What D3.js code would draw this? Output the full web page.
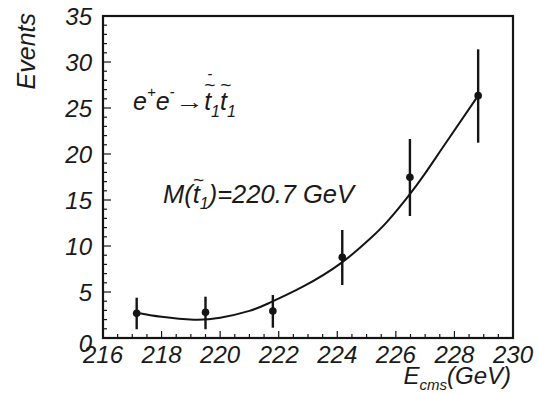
<!DOCTYPE html>
<html>
<head>
<meta charset="utf-8">
<script src="https://cdn.jsdelivr.net/npm/d3@7"></script>
<style>
  html, body { margin: 0; padding: 0; background: #fff; }
  svg { display: block; }
  text { font-family: "Liberation Sans", Arial, sans-serif; font-style: italic; fill: #1a1a1a; }
</style>
</head>
<body>
<svg id="chart" width="538" height="393"></svg>
<script>
// ---- data ----
const energies = [217.15, 219.5, 221.8, 224.17, 226.48, 228.81];
const events   = [2.68, 2.79, 2.93, 8.77, 17.47, 26.34];
const errLow   = [0.95, 0.95, 1.12, 5.76, 13.26, 21.23];
const errHigh  = [4.38, 4.49, 4.67, 11.74, 21.63, 31.38];
// fitted curve, points
const fitX = [217.15, 218.0, 219.1, 220.0, 221.0, 221.7, 222.84, 224.15, 225.12, 225.69, 226.42, 227.0, 227.6, 228.81];
const fitY = [2.75, 2.3, 1.98, 2.2, 2.95, 3.84, 5.6, 8.19, 10.8, 12.6, 15.4, 17.9, 20.7, 26.34];
const xTickLabels = ["216", "218", "220", "222", "224", "226", "228", "230"];
const yTickLabels = ["0", "5", "10", "15", "20", "25", "30", "35"];

const svg = d3.select("#chart");
const L = 103, R = 513, T = 16, B = 338;
const x = d3.scaleLinear().domain([216, 230]).range([L, R]);
const y = d3.scaleLinear().domain([0, 35]).range([B, T]);
const ink = "#141414";

// minor ticks
const xMinor = d3.range(216, 230.001, 0.5);
const yMinor = d3.range(0, 35.001, 1);
svg.append("g").selectAll("line").data(xMinor).join("line")
  .attr("x1", d => x(d)).attr("x2", d => x(d))
  .attr("y1", B).attr("y2", d => (Math.abs(d % 2) < 1e-6) ? B - 7 : B - 4)
  .attr("stroke", ink).attr("stroke-width", 1.2);
svg.append("g").selectAll("line").data(yMinor).join("line")
  .attr("y1", d => y(d)).attr("y2", d => y(d))
  .attr("x1", L).attr("x2", d => (d % 5 === 0) ? L + 8 : L + 4)
  .attr("stroke", ink).attr("stroke-width", 1.2);

// frame
svg.append("rect").attr("x", L).attr("y", T).attr("width", R - L).attr("height", B - T)
  .attr("fill", "none").attr("stroke", ink).attr("stroke-width", 2.2);

// tick labels
svg.append("g").selectAll("text").data(xTickLabels).join("text")
  .attr("x", d => x(+d)).attr("y", 363)
  .attr("text-anchor", "middle").attr("font-size", 24).text(d => d);
svg.append("g").selectAll("text").data(yTickLabels).join("text")
  .attr("x", 92).attr("y", d => y(+d) + (d === "0" ? 5 : 0)).attr("dy", "0.36em")
  .attr("text-anchor", "end").attr("font-size", 24).text(d => d);

// axis titles
svg.append("text").attr("transform", "translate(35,13) rotate(-90)")
  .attr("text-anchor", "end").attr("font-size", 25).text("Events");
const xt = svg.append("text").attr("x", 511).attr("y", 384).attr("text-anchor", "end").attr("font-size", 24);
xt.append("tspan").text("E");
xt.append("tspan").attr("font-size", 15).attr("dy", 6).text("cms");
xt.append("tspan").attr("dy", -6).text("(GeV)");

// fit curve
const line = d3.line().x(d => x(d[0])).y(d => y(d[1])).curve(d3.curveNatural);
svg.append("path").datum(fitX.map((v, i) => [v, fitY[i]])).attr("d", line)
  .attr("fill", "none").attr("stroke", ink).attr("stroke-width", 2);

// error bars and points
const pts = energies.map((e, i) => ({ e, v: events[i], lo: errLow[i], hi: errHigh[i] }));
svg.append("g").selectAll("line").data(pts).join("line")
  .attr("x1", d => x(d.e)).attr("x2", d => x(d.e))
  .attr("y1", d => y(d.lo)).attr("y2", d => y(d.hi))
  .attr("stroke", ink).attr("stroke-width", 2.4);
svg.append("g").selectAll("circle").data(pts).join("circle")
  .attr("cx", d => x(d.e)).attr("cy", d => y(d.v)).attr("r", 3.8).attr("fill", ink);

// annotation 1: e+e- -> t~bar_1 t~_1
const base1 = 110;
const aA = svg.append("text").attr("x", 133).attr("y", base1).attr("font-size", 25);
aA.append("tspan").text("e");
aA.append("tspan").attr("font-size", 15).attr("dy", -13).text("+");
aA.append("tspan").attr("dy", 13).text("e");
aA.append("tspan").attr("font-size", 15).attr("dy", -13).text("-");
const endA = 133 + aA.node().getComputedTextLength() + 1;
const arrowG = svg.append("g").attr("transform", `translate(${endA},${base1 - 1}) scale(1.3,1)`);
const arrow = arrowG.append("text").attr("x", 0).attr("y", 0).attr("font-size", 22)
  .attr("font-style", "normal").text("\u2192");
const arrowW = arrow.node().getComputedTextLength() * 1.3;
const cStart = endA + arrowW;
const aC = svg.append("text").attr("x", cStart).attr("y", base1).attr("font-size", 25);
aC.append("tspan").text("t");
aC.append("tspan").attr("font-size", 16).attr("dy", 7).text("1");
aC.append("tspan").attr("dy", -7).text("t");
aC.append("tspan").attr("font-size", 16).attr("dy", 7).text("1");
const nC = aC.node();
[0, 2].forEach((ci, k) => {
  const s = nC.getStartPositionOfChar(ci).x, e = nC.getEndPositionOfChar(ci).x;
  const cx = (s + e) / 2 + 2;
  svg.append("text").attr("x", cx).attr("y", 91).attr("text-anchor", "middle")
    .attr("font-size", 19).attr("font-style", "normal").text("~");
  if (k === 0) {
    svg.append("text").attr("x", cx).attr("y", 79).attr("text-anchor", "middle")
      .attr("font-size", 15).attr("font-style", "normal").text("-");
  }
});

// annotation 2: M(t~_1)=220.7 GeV
const a2 = svg.append("text").attr("x", 163).attr("y", 203).attr("font-size", 25.5);
a2.append("tspan").text("M(t");
a2.append("tspan").attr("font-size", 16).attr("dy", 6).text("1");
a2.append("tspan").attr("dy", -6).text(")=220.7 GeV");
const n2 = a2.node();
{
  const s = n2.getStartPositionOfChar(2).x, e = n2.getEndPositionOfChar(2).x;
  svg.append("text").attr("x", (s + e) / 2 + 2).attr("y", 186).attr("text-anchor", "middle")
    .attr("font-size", 19).attr("font-style", "normal").text("~");
}
</script>
</body>
</html>
